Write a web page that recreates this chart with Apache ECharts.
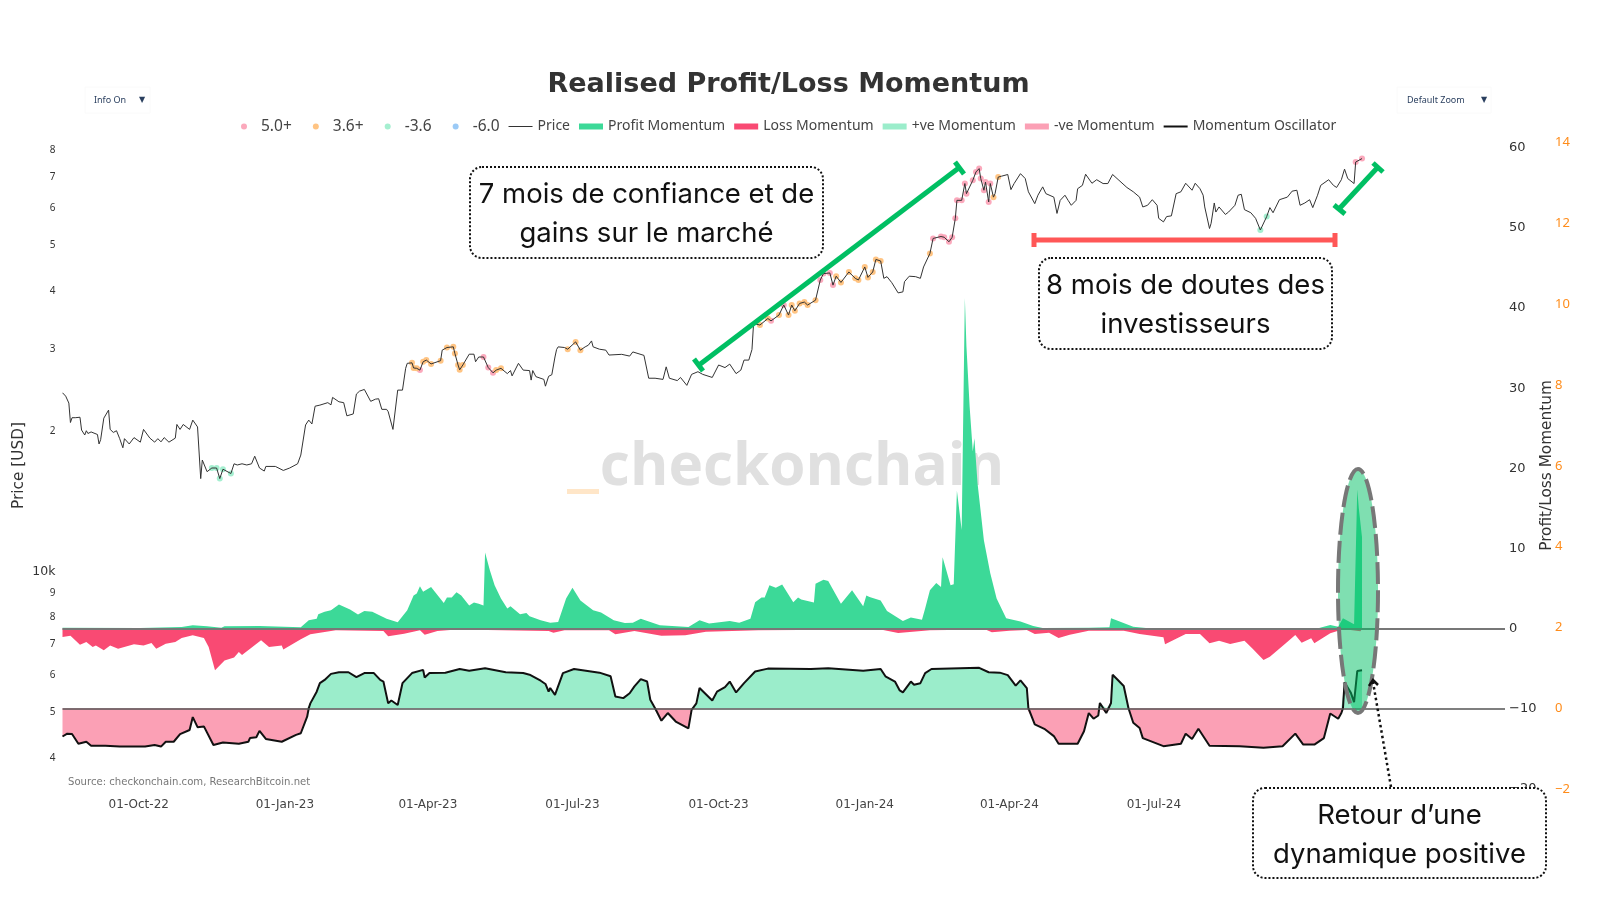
<!DOCTYPE html>
<html>
<head>
<meta charset="utf-8">
<title>Realised Profit/Loss Momentum</title>
<style>
  html, body { margin: 0; padding: 0; background: #fff; }
  #chart { width: 1600px; height: 900px; }
</style>
<script src="https://cdn.jsdelivr.net/npm/echarts@6/dist/echarts.min.js"></script>
</head>
<body>
<div id="chart"></div>
<script>
// every series is [days since startDate, value]
var startDate = Date.UTC(2022, 7, 14);
var lastAxisDay = 908;

var pricePoints = [
  [0,24200],[2,23800],[4,23000],[5,20900],[6,21400],[8,21400],[11,21450],[12,20140],[14,19650],[15,20070],
  [16,19800],[18,19950],[22,19700],[23,18800],[24,19200],[26,21350],[29,22220],[30,20200],[32,19900],[34,20070],
  [36,19300],[38,18450],[39,19300],[42,18800],[45,19400],[49,18970],[51,20200],[55,19350],[58,18970],[60,19300],
  [62,19000],[64,19400],[67,18970],[71,19350],[72,20700],[74,20200],[76,20700],[80,20200],[82,21150],[85,20450],
  [87,15850],[88,17370],[91,16400],[94,16700],[97,16700],[99,15850],[101,16600],[106,16250],[108,17050],[110,16950],
  [113,17050],[116,16950],[117,17100],[119,17050],[121,17700],[122,17650],[124,16700],[127,16450],[128,16830],[134,16830],
  [139,16500],[143,16700],[148,17050],[150,17800],[153,20650],[155,21150],[157,20750],[159,22650],[162,22770],[163,22650],
  [167,23050],[169,22800],[170,23650],[174,23150],[177,23050],[179,21600],[183,21800],[185,24050],[187,24400],[190,24600],
  [194,23200],[197,23450],[199,23500],[201,22300],[204,22300],[205,22050],[208,20200],[209,20400],[211,24520],[214,24520],
  [216,27300],[217,27980],[220,28050],[221,27350],[223,27300],[225,27060],[227,28200],[229,28430],[232,27900],[238,28350],
  [239,29860],[242,30250],[246,30350],[247,29370],[249,27750],[250,27100],[252,27750],[256,29270],[259,29270],[260,28200],
  [262,28870],[265,28870],[268,27400],[271,26700],[273,27060],[276,27300],[280,26600],[282,27000],[283,26300],[287,27980],
  [290,27060],[294,27000],[295,25760],[296,27000],[298,26200],[303,25850],[304,25000],[306,26250],[308,26450],[310,28870],
  [311,29950],[312,30350],[313,30450],[316,30250],[318,30000],[323,31100],[326,29860],[329,30350],[331,30600],[333,31250],
  [334,30350],[338,30000],[342,29860],[344,29150],[352,29250],[357,29000],[359,29600],[366,29100],[369,26000],[373,26000],
  [374,26250],[378,25850],[380,27500],[382,26000],[387,25700],[389,26100],[393,25100],[396,26500],[400,26850],[403,26500],
  [409,26100],[413,27750],[417,27400],[420,27870],[424,26600],[427,27060],[429,28430],[432,28430],[434,29950],[435,34050],
  [439,33800],[444,34900],[446,34500],[451,35500],[454,37300],[457,35500],[459,37300],[461,36250],[464,37600],[467,37850],
  [469,37300],[474,38200],[477,42200],[479,43550],[483,43700],[485,41150],[487,43000],[490,41700],[495,43900],[499,42550],
  [501,42200],[505,45000],[507,42750],[510,43900],[512,46700],[515,46350],[517,42550],[519,42900],[522,41650],[526,39600],
  [529,39800],[530,41850],[533,43000],[537,42900],[540,42550],[542,45000],[546,48100],[548,51800],[553,52300],[555,52100],
  [558,50950],[560,52100],[562,57200],[563,62500],[566,62500],[568,67900],[569,64600],[573,69000],[575,71900],[577,73100],
  [578,69600],[580,65700],[581,68400],[583,62000],[584,67900],[586,63500],[587,64600],[589,70100],[591,70400],[592,70000],
  [595,71000],[597,65900],[599,67900],[603,71300],[606,69600],[608,65200],[609,65700],[612,61500],[614,64100],[617,66800],
  [619,64600],[624,63500],[626,58600],[628,62500],[631,64100],[633,62500],[635,61000],[638,62500],[639,66200],[642,67300],
  [644,71100],[648,68000],[651,69200],[655,67900],[658,67900],[661,71000],[665,69000],[670,66600],[674,65200],[678,63500],
  [680,60500],[683,61000],[686,62700],[689,61000],[690,57200],[693,56200],[695,57700],[698,57900],[701,64600],[704,65200],
  [707,68000],[711,65700],[713,68000],[716,66200],[718,64100],[719,60500],[722,54400],[723,55800],[725,61700],[726,59000],
  [728,60500],[732,58300],[734,59000],[738,61000],[740,64100],[742,64400],[744,59700],[748,58800],[751,57200],[754,54000],
  [758,57700],[760,60300],[762,58800],[766,62700],[771,63500],[774,65400],[777,65700],[779,61000],[782,61700],[785,62700],
  [787,60300],[790,64100],[792,67300],[797,69200],[800,67300],[802,66600],[805,69200],[807,72900],[809,69600],[813,67900],
  [814,75500],[818,76800]
];

var profitPoints = [
  [0,0.12],[49,0.08],[75,0.2],[82,0.42],[91,0.3],[100,0.12],[102,0.3],[124,0.33],[150,0.17],[155,1.04],
  [160,1.25],[161,1.8],[165,2.1],[169,2.3],[174,3.0],[181,2.4],[186,1.75],[190,2.2],[195,2.1],[204,1.25],
  [211,0.8],[217,2.3],[221,4.15],[223,4.4],[225,5.3],[227,4.6],[232,5.2],[240,3.2],[242,3.9],[245,3.9],
  [248,4.55],[251,4.15],[256,2.9],[259,3.25],[262,3.1],[265,2.9],[266,9.5],[269,7.3],[272,5.4],[276,3.75],
  [280,2.5],[282,2.8],[288,1.8],[292,1.95],[294,1.55],[301,1.04],[307,0.75],[312,0.83],[317,3.75],[321,5.1],
  [326,3.5],[334,2.3],[339,2.0],[347,1.04],[354,0.7],[359,0.75],[364,1.25],[376,0.42],[394,0.2],[401,1.04],
  [407,0.63],[420,0.96],[426,0.75],[433,1.25],[436,3.3],[440,3.9],[442,3.9],[445,5.4],[449,5.1],[453,5.5],
  [460,3.3],[463,3.9],[465,3.65],[473,3.25],[474,5.6],[479,6.1],[482,5.95],[490,3.1],[497,4.8],[504,2.8],
  [506,4.15],[508,3.95],[515,3.5],[519,2.2],[529,0.96],[534,1.4],[541,1.1],[543,2.5],[546,4.8],[550,5.7],
  [553,5.2],[554,8.9],[559,5.4],[561,5.55],[563,17.2],[566,12.3],[568,41.25],[569,35.2],[571,27.7],[573,22.1],
  [574,23.75],[576,18.1],[580,11],[584,6.9],[588,3.75],[594,1.3],[603,0.88],[611,0.33],[617,0.08],[646,0.12],
  [659,0.17],[660,1.3],[663,1.08],[674,0.25],[682,0.08],[791,0.08],[798,0.46],[803,0.25],[806,1.3],[813,0.55],
  [815,17.4],[816,15],[818,11.4]
];

var lossPoints = [
  [0,-1.04],[5,-0.9],[11,-2.0],[15,-1.67],[19,-2.3],[21,-2.1],[26,-2.7],[30,-2.1],[35,-2.5],[45,-1.96],
  [51,-2.1],[56,-1.8],[59,-2.5],[65,-1.87],[71,-1.67],[75,-1.17],[82,-0.83],[89,-1.17],[92,-2.3],[96,-5.2],
  [102,-3.96],[108,-3.6],[111,-2.9],[113,-3.3],[125,-1.46],[130,-2.3],[138,-2.1],[139,-2.6],[150,-1.33],[156,-0.7],
  [172,-0.2],[202,-0.3],[205,-0.96],[215,-0.63],[225,-0.2],[228,-0.75],[236,-0.3],[248,-0.12],[306,-0.3],[309,-0.5],
  [316,-0.2],[344,-0.2],[348,-0.7],[360,-0.3],[377,-0.9],[392,-0.83],[405,-0.4],[438,-0.2],[515,-0.12],[526,-0.54],
  [546,-0.2],[581,-0.12],[585,-0.46],[596,-0.25],[607,-0.17],[612,-0.67],[621,-0.5],[627,-1.17],[634,-0.75],[646,-0.25],
  [668,-0.25],[678,-0.67],[693,-1.08],[694,-1.96],[707,-0.67],[716,-0.67],[722,-1.83],[728,-1.5],[735,-1.92],[744,-1.5],
  [749,-2.46],[756,-3.9],[760,-3.5],[770,-1.83],[776,-0.8],[780,-1.75],[786,-1.2],[788,-1.83],[798,-0.58],[803,-0.25],
  [807,-0.08],[817,-0.33],[818,-0.2]
];

var oscillatorPoints = [
  [0,-0.7],[3,-0.63],[6,-0.64],[10,-0.88],[15,-0.83],[18,-0.93],[27,-0.93],[36,-0.95],[52,-0.95],[58,-0.91],
  [62,-0.95],[65,-0.83],[70,-0.83],[74,-0.64],[80,-0.54],[82,-0.22],[85,-0.47],[89,-0.45],[95,-0.91],[101,-0.85],
  [111,-0.88],[117,-0.83],[118,-0.74],[122,-0.72],[124,-0.56],[128,-0.76],[138,-0.83],[147,-0.66],[150,-0.62],[154,-0.21],
  [155,0],[156,0.12],[160,0.41],[162,0.62],[165,0.7],[169,0.85],[174,0.89],[180,0.89],[185,0.77],[190,0.87],
  [196,0.87],[200,0.7],[202,0.66],[205,0.12],[207,0.19],[211,0.08],[214,0.62],[220,0.87],[227,0.95],[228,0.76],
  [231,0.87],[241,0.88],[250,0.97],[256,0.93],[266,0.99],[279,0.89],[290,0.87],[294,0.83],[301,0.68],[304,0.6],
  [306,0.41],[307,0.5],[310,0.33],[315,0.87],[322,0.97],[338,0.88],[345,0.79],[348,0.29],[353,0.25],[357,0.37],
  [360,0.54],[364,0.72],[368,0.66],[370,0.21],[373,0],[377,-0.31],[381,-0.12],[386,-0.33],[394,-0.5],[396,-0.04],
  [397,0],[399,0.12],[401,0.5],[409,0.19],[412,0.41],[417,0.52],[420,0.66],[424,0.39],[429,0.62],[436,0.91],
  [444,0.98],[471,0.97],[482,0.99],[504,0.93],[515,0.97],[518,0.79],[524,0.66],[527,0.44],[529,0.39],[534,0.66],
  [536,0.58],[540,0.62],[543,0.87],[547,0.97],[577,1.0],[583,0.89],[590,0.88],[595,0.82],[600,0.56],[603,0.69],
  [607,0.5],[608,0],[612,-0.4],[618,-0.51],[624,-0.69],[627,-0.88],[639,-0.88],[643,-0.57],[646,-0.12],[649,-0.26],
  [652,-0.18],[653,0.13],[657,-0.12],[660,0.13],[661,0.83],[664,0.71],[668,0.55],[671,0],[674,-0.36],[678,-0.49],
  [680,-0.74],[693,-0.94],[704,-0.88],[707,-0.63],[711,-0.76],[715,-0.51],[722,-0.93],[741,-0.94],[756,-0.98],[768,-0.94],
  [776,-0.63],[781,-0.9],[788,-0.9],[794,-0.74],[798,-0.13],[803,-0.26],[805,-0.12],[806,0],[807,0.64],[811,0.38],
  [813,0.15],[815,0.92],[818,0.94]
];

// days on which the price carries a heat marker
var heat50Days = [225,265,268,271,446,454,477,479,483,485,548,553,555,558,560,562,563,566,568,569,573,575,577,578,580,581,583,584,814,818];
var heat36Days = [220,221,223,227,229,232,238,242,246,247,249,250,252,273,276,318,323,326,439,444,451,457,459,461,464,467,469,474,487,490,495,499,501,505,507,510,512,515,546,586,589];
var heatNeg36Days = [94,97,99,101,106,754,758];
var heatNeg60Days = [];

var xTicks = ['2022-10-01','2023-01-01','2023-04-01','2023-07-01','2023-10-01','2024-01-01','2024-04-01','2024-07-01','2024-10-01','2025-01-01'];
var priceTicks = [4000,5000,6000,7000,8000,9000,10000,20000,30000,40000,50000,60000,70000,80000];
var momentumTicks = [-20,-10,0,10,20,30,40,50,60];
var oscillatorTicks = [-2,0,2,4,6,8,10,12,14];
var spacedLegendNames = ['5.0+', '3.6+', '-3.6'];

var DAY = 86400000;
function heatPoints(days) {
  return days.map(function(d) {
    var hit = pricePoints.filter(function(p) { return p[0] === d; })[0];
    return [d, hit[1]];
  });
}

var tickFont = '"DejaVu Sans", Verdana, sans-serif';
var notoFont = '"Noto Sans", "Open Sans", sans-serif';
var callFont = 'Inter, "Open Sans", sans-serif';
var green = '#00BF63';

function line(x1, y1, x2, y2, color, width, dash) {
  return {
    type: 'line', z: 100, silent: true,
    shape: { x1: x1, y1: y1, x2: x2, y2: y2 },
    style: { stroke: color, lineWidth: width, lineDash: dash || null }
  };
}
function text(str, x, y, font, fill, align, z) {
  return {
    type: 'text', z: z === undefined ? 100 : z, silent: true, x: x, y: y,
    style: { text: str, font: font, fill: fill, align: align || 'center', verticalAlign: 'middle' }
  };
}
function callout(x, y, w, h, line1, line2, y1, y2) {
  return [
    {
      type: 'rect', z: 99, silent: true,
      shape: { x: x, y: y, width: w, height: h, r: 12 },
      style: { fill: '#fff', stroke: '#111', lineWidth: 2, lineDash: [2, 2] }
    },
    text(line1, x + w / 2, y1, '27.5px ' + callFont, '#111'),
    text(line2, x + w / 2, y2, '27.5px ' + callFont, '#111')
  ];
}
function menu(x, w, label, labelX, arrowX) {
  return [
    {
      type: 'rect', z: 1, silent: true,
      shape: { x: x, y: 87, width: w, height: 26 },
      style: { fill: 'transparent', stroke: '#fafafa', lineWidth: 1 }
    },
    text(label, labelX, 100, '9px ' + notoFont, '#2a3f5f', 'left'),
    text('\u25BC', arrowX, 100, '8px ' + tickFont, '#2a3f5f')
  ];
}

var annotations = [].concat(
  [
    text('checkonchain', 802, 468, 'bold 58.5px "Open Sans", sans-serif', '#e0e0e0', 'center', -1),
    { type: 'rect', z: -1, silent: true, shape: { x: 567, y: 489, width: 32, height: 5 }, style: { fill: '#FFE6C8' } }
  ],
  menu(85, 65, 'Info On', 94, 142),
  menu(1397, 94, 'Default Zoom', 1407, 1484),
  [
    text('Source: checkonchain.com, ResearchBitcoin.net', 68, 782, '10.1px ' + tickFont, '#777', 'left'),
    // rising trend arrows
    line(699, 365, 960, 167, green, 5),
    line(694, 359, 703, 371, green, 5),
    line(955, 162, 964, 174, green, 5),
    line(1339, 209, 1378, 167, green, 5),
    line(1334, 205, 1345, 214, green, 5),
    line(1373, 163, 1383, 172, green, 5),
    // range bar
    line(1034, 240, 1335, 240, '#FF5757', 5),
    line(1034, 233, 1034, 247, '#FF5757', 5),
    line(1335, 233, 1335, 247, '#FF5757', 5),
    // highlight ellipse
    {
      type: 'ellipse', z: 98, silent: true,
      shape: { cx: 1358, cy: 591, rx: 20, ry: 122 },
      style: { fill: 'rgba(0,191,99,0.5)', stroke: '#777', lineWidth: 4, lineDash: [22, 6] }
    },
    // pointer to the ellipse
    line(1391, 787, 1373, 682, '#111', 2.5, [2.5, 3]),
    {
      type: 'polyline', z: 100, silent: true,
      shape: { points: [[1369, 686], [1373, 680], [1378, 685]] },
      style: { stroke: '#111', fill: null, lineWidth: 2.5 }
    }
  ],
  callout(470, 167, 353, 91, '7 mois de confiance et de', 'gains sur le marché', 195, 234),
  callout(1039, 258, 293, 91, '8 mois de doutes des', 'investisseurs', 286, 325),
  callout(1253, 788, 293, 90, 'Retour d\u2019une', 'dynamique positive', 816, 855)
);

var chart = echarts.init(document.getElementById('chart'), null, { renderer: 'canvas' });

var option = {
  animation: false,
  backgroundColor: '#fff',
  title: {
    text: 'Realised Profit/Loss Momentum',
    left: 783.5, top: 66, textAlign: 'center',
    textStyle: { fontFamily: tickFont, fontWeight: 'bold', fontSize: 27, color: '#333' }
  },
  legend: {
    top: 113.5, left: 236,
    itemWidth: 24, itemHeight: 6, itemGap: 9,
    textStyle: {
      fontFamily: notoFont, fontSize: 14, color: '#444',
      rich: { dot: { fontFamily: notoFont, fontSize: 15.5, color: '#444' } }
    },
    formatter: function(name) {
      if (name === '-6.0') return '{dot|' + name + '}';
      if (spacedLegendNames.indexOf(name) >= 0) return '{dot|' + name + '\u00A0\u00A0\u00A0}';
      return name;
    },
    data: [
      { name: '5.0+', icon: 'circle' },
      { name: '3.6+', icon: 'circle' },
      { name: '-3.6', icon: 'circle' },
      { name: '-6.0', icon: 'circle' },
      { name: 'Price', icon: 'path://M0,0H24V1H0Z' },
      { name: 'Profit Momentum', icon: 'rect' },
      { name: 'Loss Momentum', icon: 'rect' },
      { name: '+ve Momentum', icon: 'rect' },
      { name: '-ve Momentum', icon: 'rect' },
      { name: 'Momentum Oscillator', icon: 'path://M0,0H24V2H0Z' }
    ]
  },
  grid: { left: 62.5, right: 95, top: 142, bottom: 111, containLabel: false, outerBoundsMode: 'none' },
  xAxis: {
    type: 'value',
    min: 0,
    max: lastAxisDay,
    axisLine: { show: false },
    axisTick: { show: false },
    splitLine: { show: false },
    axisLabel: {
      customValues: xTicks.map(function(d) { return (Date.parse(d + 'T00:00:00Z') - startDate) / DAY; }),
      formatter: function(v) { return echarts.time.format(startDate + v * DAY, '{dd}-{MMM}-{yy}', true); },
      fontFamily: tickFont, fontSize: 12, color: '#444', margin: 10
    }
  },
  yAxis: [
    {
      type: 'log', logBase: 10, position: 'left',
      min: 3430, max: 83340,
      name: 'Price [USD]', nameLocation: 'middle', nameGap: 36, nameMoveOverlap: false,
      nameTextStyle: { fontFamily: tickFont, fontSize: 15.3, color: '#333' },
      axisLine: { show: false }, axisTick: { show: false }, splitLine: { show: false },
      axisLabel: {
        customValues: priceTicks,
        margin: 7,
        fontFamily: notoFont, fontSize: 10, color: '#333',
        formatter: function(v) {
          if (Math.abs(v - 10000) < 1) return '{big|10k}';
          var digit = v >= 10000 ? v / 10000 : v / 1000;
          return String(Math.round(digit));
        },
        rich: { big: { fontFamily: tickFont, fontSize: 12.5, color: '#333' } }
      }
    },
    {
      type: 'value', position: 'right',
      min: -20, max: 60.7,
      name: 'Profit/Loss Momentum', nameLocation: 'middle', nameGap: 35, nameRotate: 90, nameMoveOverlap: false,
      nameTextStyle: { fontFamily: tickFont, fontSize: 15.3, color: '#333' },
      axisLine: { show: false }, axisTick: { show: false }, splitLine: { show: false },
      axisLabel: {
        customValues: momentumTicks,
        margin: 4,
        fontFamily: tickFont, fontSize: 13, color: '#333',
        formatter: function(v) { return String(v).replace('-', '\u2212'); }
      }
    },
    {
      type: 'value', position: 'right', offset: 45,
      min: -2, max: 14.017,
      axisLine: { show: false }, axisTick: { show: false }, splitLine: { show: false },
      axisLabel: {
        customValues: oscillatorTicks,
        margin: 5,
        fontFamily: notoFont, fontSize: 13, color: '#FF8C1A',
        formatter: function(v) { return String(v).replace('-', '\u2212'); }
      }
    }
  ],
  series: [
    {
      name: '+ve Momentum', type: 'line', yAxisIndex: 2, symbol: 'none', z: 2,
      data: oscillatorPoints.map(function(p) { return [p[0], Math.max(p[1], 0)]; }),
      lineStyle: { width: 0 }, itemStyle: { color: '#9BEDCB' },
      areaStyle: { color: '#9BEDCB', opacity: 1 }
    },
    {
      name: '-ve Momentum', type: 'line', yAxisIndex: 2, symbol: 'none', z: 2,
      data: oscillatorPoints.map(function(p) { return [p[0], Math.min(p[1], 0)]; }),
      lineStyle: { width: 0 }, itemStyle: { color: '#FBA0B5' },
      areaStyle: { color: '#FBA0B5', opacity: 1 }
    },
    {
      name: 'Profit Momentum', type: 'line', yAxisIndex: 1, symbol: 'none', z: 2,
      data: profitPoints,
      lineStyle: { width: 0 }, itemStyle: { color: '#3CD998' },
      areaStyle: { color: '#3CD998', opacity: 1 }
    },
    {
      name: 'Loss Momentum', type: 'line', yAxisIndex: 1, symbol: 'none', z: 2,
      data: lossPoints,
      lineStyle: { width: 0 }, itemStyle: { color: '#F94A73' },
      areaStyle: { color: '#F94A73', opacity: 1 },
      markLine: {
        silent: true, symbol: 'none', label: { show: false },
        data: [
          { yAxis: 0, lineStyle: { color: '#777', width: 2, type: 'solid' } },
          { yAxis: -10, lineStyle: { color: '#555', width: 1.5, type: 'solid' } }
        ]
      }
    },
    {
      name: 'Momentum Oscillator', type: 'line', yAxisIndex: 2, symbol: 'none', z: 4,
      data: oscillatorPoints,
      lineStyle: { color: '#111', width: 2 }, itemStyle: { color: '#111' }
    },
    {
      name: '5.0+', type: 'scatter', yAxisIndex: 0, symbolSize: 6, z: 3,
      data: heatPoints(heat50Days), itemStyle: { color: '#FBA0B5', opacity: 0.9 }
    },
    {
      name: '3.6+', type: 'scatter', yAxisIndex: 0, symbolSize: 6, z: 3,
      data: heatPoints(heat36Days), itemStyle: { color: '#FFBE75', opacity: 0.9 }
    },
    {
      name: '-3.6', type: 'scatter', yAxisIndex: 0, symbolSize: 6, z: 3,
      data: heatPoints(heatNeg36Days), itemStyle: { color: '#9BEDCB', opacity: 0.9 }
    },
    {
      name: '-6.0', type: 'scatter', yAxisIndex: 0, symbolSize: 6, z: 3,
      data: heatPoints(heatNeg60Days), itemStyle: { color: '#90C4F5', opacity: 0.9 }
    },
    {
      name: 'Price', type: 'line', yAxisIndex: 0, symbol: 'none', z: 4,
      data: pricePoints,
      lineStyle: { color: '#333', width: 1 }, itemStyle: { color: '#333' }
    }
  ],
  graphic: { elements: annotations }
};

chart.setOption(option);
window.addEventListener('resize', function() { chart.resize(); });
</script>
</body>
</html>
